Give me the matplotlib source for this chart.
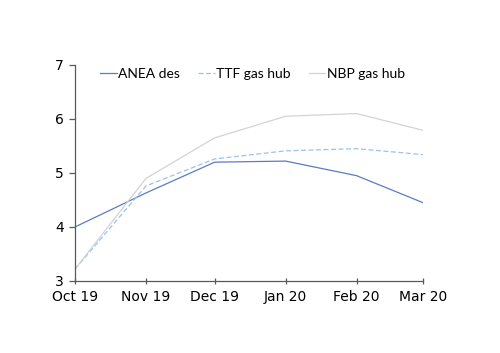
import matplotlib

matplotlib.use("Agg")
import matplotlib.pyplot as plt
import numpy as np

months = np.array(["2019-10-01", "2019-11-01", "2019-12-01",
                   "2020-01-01", "2020-02-01", "2020-03-01"], dtype="datetime64[D]")
tick_labels = ["Oct 19", "Nov 19", "Dec 19", "Jan 20", "Feb 20", "Mar 20"]
anea = [4.00, 4.63, 5.20, 5.22, 4.95, 4.45]
ttf = [3.22, 4.76, 5.26, 5.41, 5.45, 5.34]
nbp = [3.22, 4.90, 5.65, 6.05, 6.10, 5.79]

fig = plt.figure(figsize=(5, 3.53), dpi=100)
ax = fig.add_axes([0.15, 0.204, 0.696, 0.612])

ax.plot(months, anea, color="#5b7bc4", lw=0.9, label="ANEA des")
ax.plot(months, ttf, color="#9cc2ea", lw=0.9, ls=(0, (4, 2)), label="TTF gas hub")
ax.plot(months, nbp, color="#d3d3d3", lw=0.9, label="NBP gas hub")

ax.set_xlim(months[0], months[-1])
ax.set_ylim(3, 7)
ax.set_xticks(months)
ax.set_xticklabels(tick_labels)
ax.set_yticks([3, 4, 5, 6, 7])

for s in ["top", "right"]:
    ax.spines[s].set_visible(False)
for s in ["left", "bottom"]:
    ax.spines[s].set_color("#595959")
    ax.spines[s].set_linewidth(0.9)

ax.tick_params(axis="x", direction="inout", length=5, width=0.9, color="#595959",
               labelsize=10, pad=4)
ax.tick_params(axis="y", direction="out", length=4, width=0.9, color="#595959",
               labelsize=10, pad=4)

ax.legend(loc="upper center", bbox_to_anchor=(0.51, 1.045), ncol=3, frameon=False,
          handlelength=1.2, handletextpad=0.1, columnspacing=1.3,
          prop={"family": "Lato", "size": 10})

fig.savefig("out.png", dpi=100)
